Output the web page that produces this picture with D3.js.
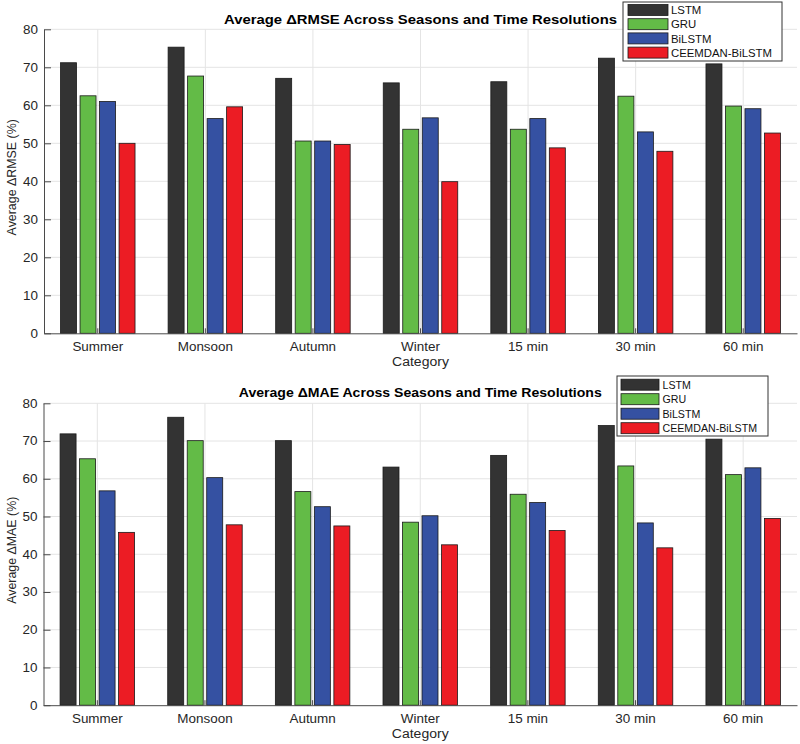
<!DOCTYPE html>
<html>
<head>
<meta charset="utf-8">
<script src="https://cdn.jsdelivr.net/npm/d3@7"></script>
<style>
body { margin: 0; background: #fff; }
svg text { font-family: "Liberation Sans", Arial, sans-serif; fill: #262626; }
</style>
</head>
<body>
<div id="chart"></div>
<script>
// categorias y modelos
var categories = ["Summer", "Monsoon", "Autumn", "Winter", "15 min", "30 min", "60 min"];
var models = ["LSTM", "GRU", "BiLSTM", "CEEMDAN-BiLSTM"];
var colors = ["#333333", "#63bb47", "#3551a2", "#ec1c24"];
var yTicks = [0, 10, 20, 30, 40, 50, 60, 70, 80];

// Average ΔRMSE (%)
var rmse_lstm    = [71.2, 75.3, 67.1, 65.9, 66.2, 72.4, 70.9];
var rmse_gru     = [62.5, 67.7, 50.6, 53.7, 53.7, 62.4, 59.8];
var rmse_bilstm  = [61.0, 56.5, 50.6, 56.7, 56.5, 53.0, 59.1];
var rmse_ceemdan = [50.0, 59.6, 49.7, 39.9, 48.8, 47.9, 52.7];

// Average ΔMAE (%)
var mae_lstm    = [71.9, 76.3, 70.1, 63.1, 66.2, 74.1, 70.5];
var mae_gru     = [65.3, 70.1, 56.6, 48.5, 55.9, 63.4, 61.1];
var mae_bilstm  = [56.8, 60.3, 52.6, 50.2, 53.7, 48.3, 62.9];
var mae_ceemdan = [45.8, 47.8, 47.5, 42.5, 46.3, 41.7, 49.5];

var svg = d3.select("#chart")
	.append("svg")
	.attr("width", 800)
	.attr("height", 744);

// el texto del original sale un poco ancho
function stretch(sel, k) {
	sel.each(function() {
		var w = this.getComputedTextLength();
		d3.select(this)
			.attr("textLength", w * k)
			.attr("lengthAdjust", "spacingAndGlyphs");
	});
}

function drawPanel(p) {
	var g = svg.append("g");

	var x0 = d3.scaleBand()
		.domain(categories)
		.range([p.left, p.right]);

	var x1 = d3.scaleBand()
		.domain(models)
		.range([-39, 39])
		.paddingInner(0.18)
		.paddingOuter(0.09);

	var y = d3.scaleLinear()
		.domain([0, 80])
		.range([p.bottom, p.top]);

	function cx(c) { return x0(c) + x0.bandwidth() / 2; }

	// grid
	var grid = g.append("g").attr("stroke", "#e4e4e4").attr("stroke-width", 1);
	grid.selectAll(".h")
		.data(yTicks.slice(1))
		.enter()
		.append("line")
		.attr("x1", p.left)
		.attr("x2", p.right)
		.attr("y1", function(d) { return y(d); })
		.attr("y2", function(d) { return y(d); });
	grid.selectAll(".v")
		.data(categories)
		.enter()
		.append("line")
		.attr("x1", cx)
		.attr("x2", cx)
		.attr("y1", p.top)
		.attr("y2", p.bottom);

	// barras
	var rows = [];
	categories.forEach(function(c, i) {
		models.forEach(function(m, j) {
			rows.push({ c: c, m: m, j: j, v: p.series[j][i] });
		});
	});

	g.append("g")
		.selectAll("rect")
		.data(rows)
		.enter()
		.append("rect")
		.attr("x", function(d) { return cx(d.c) + x1(d.m); })
		.attr("width", x1.bandwidth())
		.attr("y", function(d) { return y(d.v); })
		.attr("height", function(d) { return y(0) - y(d.v); })
		.attr("fill", function(d) { return colors[d.j]; })
		.attr("stroke", "#1a1a1a")
		.attr("stroke-width", 0.8);

	// ejes
	var ya = g.append("g")
		.attr("transform", "translate(" + p.left + ",0)")
		.call(d3.axisLeft(y).tickValues(yTicks).tickSizeInner(-7).tickSizeOuter(0).tickPadding(6));

	var xa = g.append("g")
		.attr("transform", "translate(0," + p.bottom + ")")
		.call(d3.axisBottom(x0).tickSizeInner(-5).tickSizeOuter(0).tickPadding(9));

	[ya, xa].forEach(function(a) {
		a.select(".domain").attr("stroke", "#4a4a4a");
		a.selectAll(".tick line").attr("stroke", "#4a4a4a");
		a.selectAll("text")
			.attr("font-size", 12)
			.attr("font-family", null)
			.attr("fill", "#262626");
	});
	stretch(ya.selectAll("text"), 1.12);
	stretch(xa.selectAll("text"), 1.12);

	// titulo
	g.append("text")
		.attr("x", (p.left + p.right) / 2)
		.attr("y", p.titleY)
		.attr("text-anchor", "middle")
		.attr("font-size", 12.5)
		.attr("font-weight", "bold")
		.style("fill", "#000")
		.attr("textLength", p.titleW)
		.attr("lengthAdjust", "spacingAndGlyphs")
		.text(p.title);

	// etiquetas de ejes
	var xl = g.append("text")
		.attr("x", (p.left + p.right) / 2)
		.attr("y", p.bottom + 33)
		.attr("text-anchor", "middle")
		.attr("font-size", 12.5)
		.text("Category");
	stretch(xl, 1.12);

	g.append("text")
		.attr("transform", "translate(12," + ((p.top + p.bottom) / 2 - 4) + ") rotate(-90)")
		.attr("text-anchor", "middle")
		.attr("dy", "0.35em")
		.attr("font-size", 12.4)
		.text(p.ylabel);

	// leyenda
	var L = p.legend;
	var leg = g.append("g");
	leg.append("rect")
		.attr("x", L.x)
		.attr("y", L.y)
		.attr("width", L.w)
		.attr("height", L.h)
		.attr("fill", "#fff")
		.attr("stroke", "#333")
		.attr("stroke-width", 1);

	models.forEach(function(m, j) {
		var ry = L.y0 + j * L.step;
		leg.append("rect")
			.attr("x", L.sx)
			.attr("y", ry - 5.5)
			.attr("width", L.sw)
			.attr("height", 11)
			.attr("fill", colors[j])
			.attr("stroke", "#1a1a1a")
			.attr("stroke-width", 0.8);
		var t = leg.append("text")
			.attr("x", L.tx)
			.attr("y", ry)
			.attr("dy", "0.36em")
			.attr("font-size", L.fs)
			.style("fill", "#111")
			.text(m);
		stretch(t, L.k);
	});
}

drawPanel({
	title: "Average \u0394RMSE Across Seasons and Time Resolutions",
	ylabel: "Average \u0394RMSE (%)",
	series: [rmse_lstm, rmse_gru, rmse_bilstm, rmse_ceemdan],
	left: 44, right: 797, top: 29.3, bottom: 333.3,
	titleY: 23.5, titleW: 393,
	legend: { x: 623, y: 2, w: 159, h: 59, sx: 628, sw: 40, tx: 671, y0: 10, step: 14.2, fs: 11.6, k: 0.98 }
});

drawPanel({
	title: "Average \u0394MAE Across Seasons and Time Resolutions",
	ylabel: "Average \u0394MAE (%)",
	series: [mae_lstm, mae_gru, mae_bilstm, mae_ceemdan],
	left: 43.5, right: 797, top: 403.3, bottom: 705.2,
	titleY: 397, titleW: 363,
	legend: { x: 617, y: 376, w: 151, h: 60, sx: 621, sw: 38, tx: 662.5, y0: 384.7, step: 14.5, fs: 11.2, k: 0.95 }
});
</script>
</body>
</html>
